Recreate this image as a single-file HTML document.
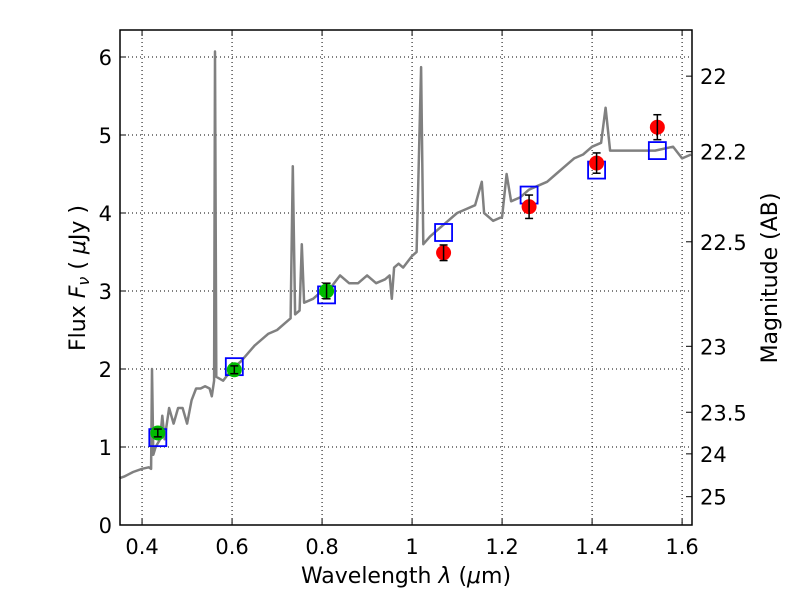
<!DOCTYPE html>
<html><head><meta charset="utf-8"><style>
body{margin:0;background:#fff;}
svg text{font-family:"DejaVu Sans","Liberation Sans",sans-serif;}
</style></head><body>
<svg id="chart" width="800" height="600" xmlns="http://www.w3.org/2000/svg">
<g id="grid"></g>
<g id="spec"></g>
<g id="marks"></g>
<rect x="120" y="30" width="572" height="495" fill="none" stroke="#000" stroke-width="1.5"/>
<g id="ticks"></g>
<text x="406" y="583" font-size="22" text-anchor="middle">Wavelength  <tspan font-style="italic">λ</tspan> (<tspan font-style="italic">μ</tspan>m)</text>
<text transform="translate(85,278) rotate(-90)" font-size="22" text-anchor="middle">Flux  <tspan font-style="italic">F</tspan><tspan font-style="italic" font-size="16" dy="4">ν</tspan><tspan dy="-4">  ( </tspan><tspan font-style="italic">μ</tspan>Jy )</text>
<text transform="translate(777,278) rotate(-90)" font-size="22" text-anchor="middle">Magnitude (AB)</text>
</svg>
<script>
const specWave=[0.35,0.36,0.38,0.40,0.415,0.42,0.422,0.425,0.43,0.44,0.445,0.45,0.46,0.47,0.48,0.49,0.50,0.51,0.52,0.53,0.54,0.55,0.555,0.56,0.562,0.565,0.58,0.60,0.62,0.65,0.68,0.70,0.72,0.73,0.735,0.74,0.75,0.755,0.76,0.78,0.80,0.82,0.84,0.86,0.88,0.90,0.92,0.94,0.95,0.955,0.96,0.97,0.98,1.0,1.01,1.02,1.025,1.04,1.06,1.08,1.10,1.12,1.14,1.155,1.16,1.18,1.20,1.21,1.22,1.24,1.26,1.28,1.30,1.32,1.34,1.36,1.38,1.40,1.42,1.43,1.44,1.46,1.50,1.54,1.58,1.60,1.62];
const specFlux=[0.6,0.62,0.68,0.72,0.74,0.72,2.0,0.9,1.0,1.1,1.4,1.1,1.5,1.3,1.5,1.5,1.3,1.6,1.75,1.75,1.78,1.75,1.65,1.85,6.07,1.9,1.85,2.0,2.1,2.3,2.45,2.5,2.6,2.65,4.6,2.7,2.75,3.6,2.85,2.9,3.0,3.05,3.2,3.1,3.1,3.2,3.1,3.15,3.2,2.9,3.3,3.35,3.3,3.45,3.5,5.87,3.6,3.7,3.8,3.9,4.0,4.05,4.1,4.4,4.0,3.9,3.95,4.5,4.15,4.2,4.3,4.35,4.4,4.5,4.6,4.7,4.75,4.85,4.9,5.35,4.8,4.8,4.8,4.8,4.85,4.7,4.75];
const modelWave=[0.435,0.605,0.81,1.07,1.26,1.41,1.545];
const modelFlux=[1.12,2.03,2.95,3.75,4.23,4.55,4.8];
const greenWave=[0.435,0.605,0.81];
const greenFlux=[1.18,1.99,3.0];
const greenErr=[0.05,0.05,0.1];
const redWave=[1.07,1.26,1.41,1.545];
const redFlux=[3.49,4.08,4.64,5.1];
const redErr=[0.1,0.15,0.13,0.16];
const xTicks=[0.4,0.6,0.8,1.0,1.2,1.4,1.6];
const xTickLabels=["0.4","0.6","0.8","1","1.2","1.4","1.6"];
const yTicks=[0,1,2,3,4,5,6];
const magTicks=[22,22.2,22.5,23,23.5,24,25];
const X0=120,X1=692,Y0=525,Y1=30,xmin=0.351,xmax=1.622,ymin=0,ymax=6.346;
const sx=v=>X0+(v-xmin)/(xmax-xmin)*(X1-X0);
const sy=v=>Y0-(v-ymin)/(ymax-ymin)*(Y0-Y1);
const NS="http://www.w3.org/2000/svg";
function mk(p,t,a){const e=document.createElementNS(NS,t);for(const k in a)e.setAttribute(k,a[k]);p.appendChild(e);return e;}
const grid=document.getElementById('grid'),ticks=document.getElementById('ticks'),spec=document.getElementById('spec'),marks=document.getElementById('marks');
xTicks.forEach((v,i)=>{const x=sx(v);
 let g=mk(grid,'line',{x1:x,x2:x,y1:Y1,y2:Y0,stroke:'#000','stroke-width':1,'stroke-dasharray':'1,3'});
 
 mk(ticks,'line',{x1:x,x2:x,y1:Y0,y2:Y0-6,stroke:'#000'});mk(ticks,'line',{x1:x,x2:x,y1:Y1,y2:Y1+6,stroke:'#000'});
 let t=mk(ticks,'text',{x:x,y:554,'font-size':21,'text-anchor':'middle'});t.textContent=xTickLabels[i];
 });
yTicks.forEach(v=>{const y=sy(v);
 let g=mk(grid,'line',{x1:X0,x2:X1,y1:y,y2:y,stroke:'#000','stroke-width':1,'stroke-dasharray':'1,3'});
 
 mk(ticks,'line',{x1:X0,x2:X0+6,y1:y,y2:y,stroke:'#000'});
 let t=mk(ticks,'text',{x:112,y:y+8,'font-size':21,'text-anchor':'end'});t.textContent=String(v);
 });
magTicks.forEach(m=>{const y=sy(Math.pow(10,(23.9-m)/2.5));
 mk(ticks,'line',{x1:X1,x2:X1-6,y1:y,y2:y,stroke:'#000'});
 let t=mk(ticks,'text',{x:700,y:y+8,'font-size':21});t.textContent=String(m);
 });
const pts=specWave.map((w,i)=>sx(w).toFixed(1)+','+sy(specFlux[i]).toFixed(1)).join(' ');
const pl=mk(spec,'polyline',{points:pts,fill:'none',stroke:'#808080','stroke-width':2.5,'stroke-linejoin':'round'});

modelWave.forEach((w,i)=>{const r=mk(marks,'rect',{x:sx(w)-8.5,y:sy(modelFlux[i])-8.5,width:17,height:17,fill:'none',stroke:'#0000ff','stroke-width':1.8});
 });
function pt(w,f,e,col,name){const x=sx(w),y=sy(f);
 const c=mk(marks,'circle',{cx:x,cy:y,r:7.5,fill:col,stroke:'none'});
 
 const y1=sy(f+e),y2=sy(f-e);
 mk(marks,'line',{x1:x,x2:x,y1:y1,y2:y2,stroke:'#000','stroke-width':1.5});
 mk(marks,'line',{x1:x-4,x2:x+4,y1:y1,y2:y1,stroke:'#000','stroke-width':1.5});
 mk(marks,'line',{x1:x-4,x2:x+4,y1:y2,y2:y2,stroke:'#000','stroke-width':1.5});}
greenWave.forEach((w,i)=>pt(w,greenFlux[i],greenErr[i],'#00bb00','green-photometry-point'));
redWave.forEach((w,i)=>pt(w,redFlux[i],redErr[i],'#ff0000','red-photometry-point'));
</script>
</body></html>
